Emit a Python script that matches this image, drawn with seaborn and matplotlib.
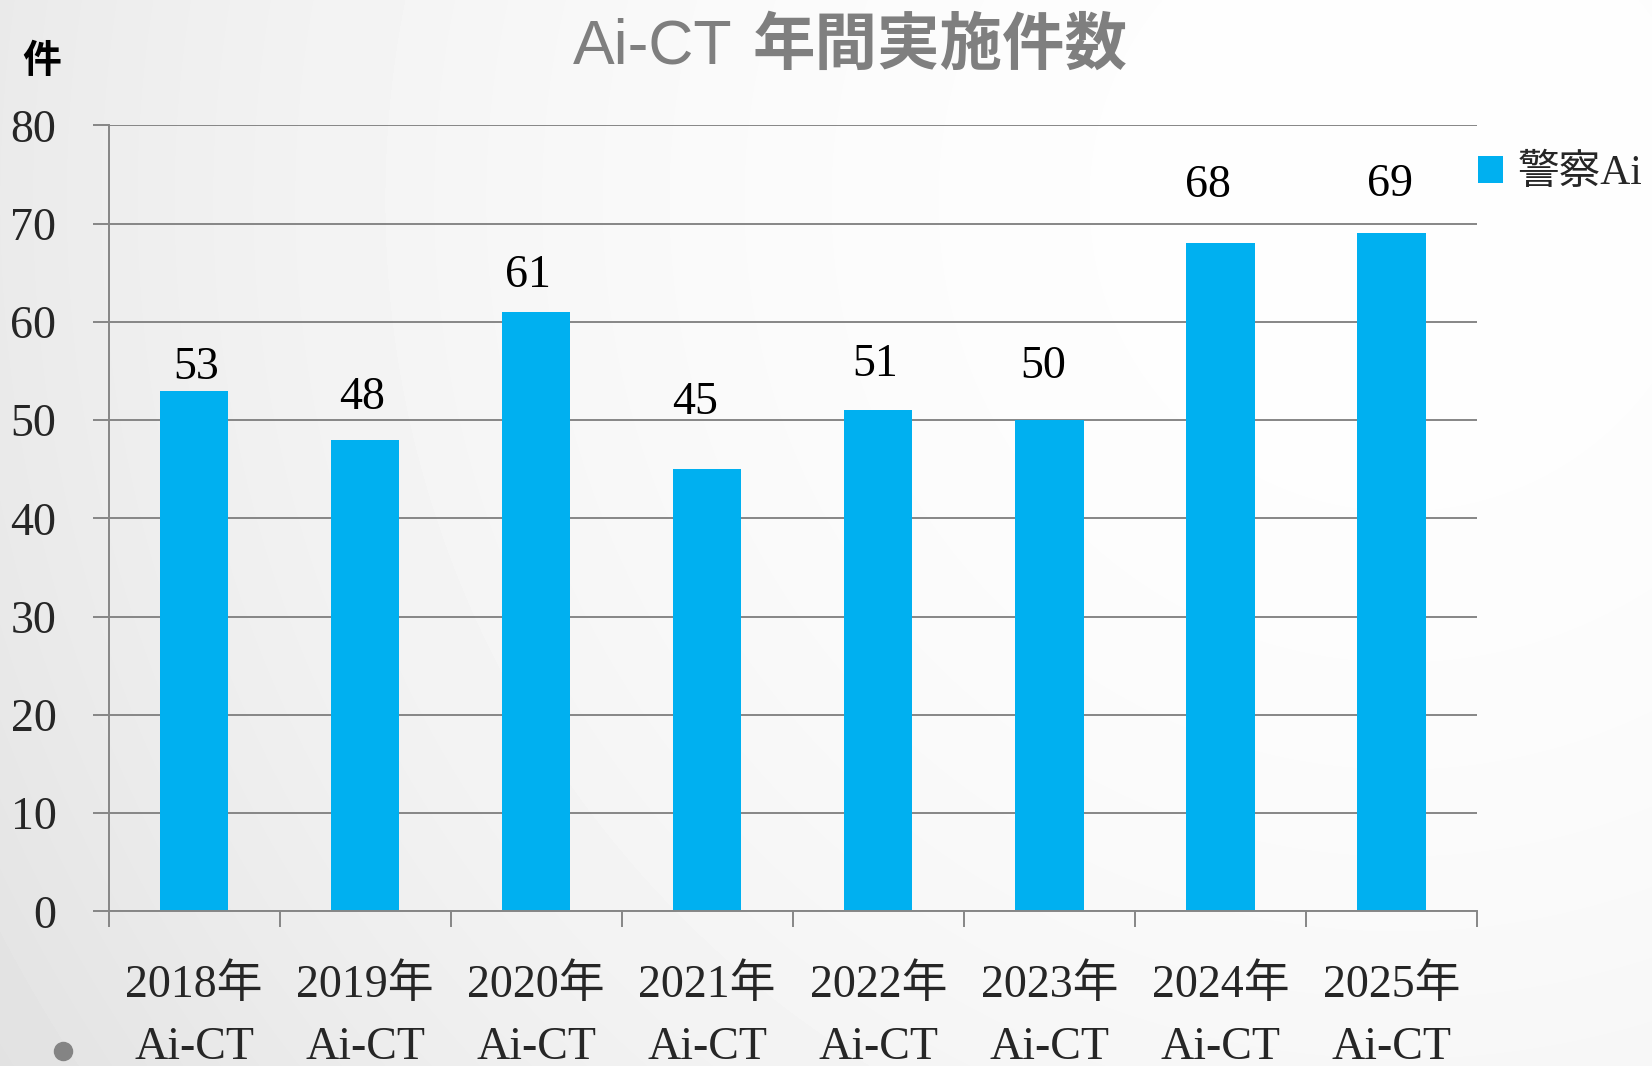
import numpy as np
import pandas as pd
import matplotlib
matplotlib.use('Agg')
import matplotlib.pyplot as plt
from matplotlib.ticker import MultipleLocator, FixedLocator
import seaborn as sns

years = ['2018年', '2019年', '2020年', '2021年', '2022年', '2023年', '2024年', '2025年']
counts = [53, 48, 61, 45, 51, 50, 68, 69]
series_name = '警察Ai'
title_latin = 'Ai-CT'
title_cjk = '年間実施件数'
y_unit = '件'

# where the value labels sit relative to the bar top (pixels, dragged by hand in the original)
label_dx = [2, -3, -8, -12, -3, -6, -12, -1]
label_dy = [23, 42, 36, 67, 46, 53, 58, 49]

df = pd.DataFrame({'label': [y + '\nAi-CT' for y in years], 'count': counts})

sns.set_style('white')
plt.rcParams['font.family'] = ['Liberation Serif', 'Noto Sans CJK JP']

W, H = 1652, 1066
fig = plt.figure(figsize=(W / 100, H / 100), dpi=100)

# background gradient
bg = fig.add_axes([0, 0, 1, 1], zorder=-10)
yy, xx = np.mgrid[0:H, 0:W]
r = np.hypot(xx - 1400, yy - 200) / np.hypot(1400, H - 200)
shade = 0.995 - 0.11 * r ** 2.2
bg.imshow(shade, cmap='gray', vmin=0, vmax=1, extent=[0, W, H, 0], aspect='auto')
bg.plot([63], [1051], 'o', color='#848484', markersize=13)
bg.set_xlim(0, W)
bg.set_ylim(H, 0)
bg.axis('off')

ax = fig.add_axes([108.5 / W, 1 - 911.4 / H, (1477 - 108.5) / W, (911.4 - 125.4) / H])
ax.patch.set_alpha(0)

sns.barplot(data=df, x='label', y='count', color='#00B0F0', width=0.4,
            saturation=1, ax=ax, label=series_name, zorder=3, linewidth=0)
handles, labels = ax.get_legend_handles_labels()
if ax.get_legend() is not None:
    ax.get_legend().remove()

gray = '#868686'
ax.set_xlim(-0.5, len(years) - 0.5)
ax.set_ylim(0, 80)
ax.yaxis.set_major_locator(MultipleLocator(10))
ax.grid(axis='y', color=gray, linewidth=1.4, zorder=0)
ax.set_axisbelow(True)
for s in ['top', 'right']:
    ax.spines[s].set_visible(False)
for s in ['left', 'bottom']:
    ax.spines[s].set_color(gray)
    ax.spines[s].set_linewidth(1.4)
    ax.spines[s].set_zorder(4)

ax.xaxis.set_minor_locator(FixedLocator(np.arange(-0.5, len(years), 1.0)))
ax.tick_params(axis='x', which='minor', length=11.5, width=1.4, color=gray, direction='out', bottom=True)
ax.tick_params(axis='x', which='major', length=0, pad=38, labelsize=33)
ax.tick_params(axis='y', which='major', length=11.5, width=1.4, color=gray, direction='out', left=True,
               pad=26, labelsize=33)
for lab in ax.get_xticklabels():
    lab.set_linespacing(1.6)
ax.set_xlabel('')
ax.set_ylabel('')

for i, v in enumerate(counts):
    ax.annotate(str(v), (i, v), xytext=(label_dx[i], label_dy[i]), textcoords='offset pixels',
                ha='center', va='center', fontsize=33, color='black')

fig.text(42 / W, 1 - 62 / H, y_unit, ha='center', va='center', fontsize=28,
         family=['Noto Sans CJK JP'], weight='bold', color='black')

fig.text(732 / W, 1 - 64 / H, title_latin, ha='right', va='baseline', fontsize=45,
         family=['Liberation Sans'], color='#7f7f7f')
fig.text(753 / W, 1 - 64 / H, title_cjk, ha='left', va='baseline', fontsize=45,
         family=['Noto Sans CJK JP'], weight='bold', color='#7f7f7f')

fig.legend(handles, labels, loc='center left', bbox_to_anchor=(1478 / W, 1 - 174 / H), frameon=False,
           fontsize=30, handlelength=0.6, handleheight=0.6, handletextpad=0.35, borderpad=0,
           borderaxespad=0)

fig.savefig('out.png', dpi=100)
